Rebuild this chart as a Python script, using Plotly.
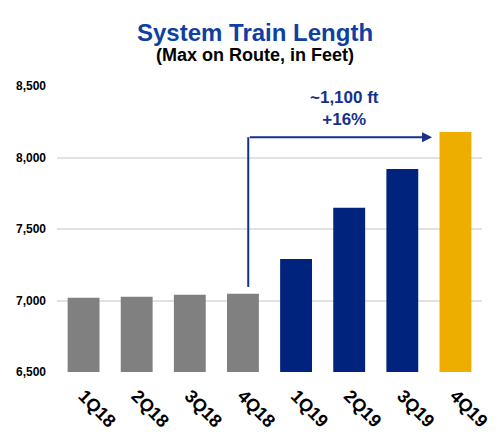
import plotly.graph_objects as go

quarters = ["1Q18", "2Q18", "3Q18", "4Q18", "1Q19", "2Q19", "3Q19", "4Q19"]
train_length = [7020, 7026, 7040, 7047, 7290, 7648, 7920, 8178]
bar_colors = ["#808080"] * 4 + ["#00237D"] * 3 + ["#EDAE00"]
y_ticks = [6500, 7000, 7500, 8000, 8500]
y_tick_labels = ["6,500", "7,000", "7,500", "8,000", "8,500"]

FONT = "Arial, Liberation Sans, sans-serif"
NAVY = "#15318A"

fig = go.Figure(go.Bar(x=quarters, y=train_length, marker_color=bar_colors,
                       marker_line_width=0, width=0.6))

# bracket arrow from 4Q18 to 4Q19
fig.add_shape(type="line", xref="x", yref="y", x0=3.1, x1=3.1, y0=7095, y1=8142,
              line=dict(color=NAVY, width=2))
fig.add_annotation(xref="x", yref="y", axref="x", ayref="y",
                   x=6.56, y=8142, ax=3.1, ay=8142, text="", showarrow=True,
                   arrowhead=2, arrowsize=1, arrowwidth=2, arrowcolor=NAVY)
fig.add_annotation(xref="x", yref="y", x=4.92, y=8341, text="<b>~1,100 ft<br>+16%</b>",
                   showarrow=False, font=dict(family=FONT, size=17, color=NAVY))

fig.add_annotation(xref="paper", yref="paper", x=0.467, y=1.241,
                   text="<b>System Train Length</b>", showarrow=False,
                   font=dict(family=FONT, size=24, color="#0E3FA3"))
fig.add_annotation(xref="paper", yref="paper", x=0.467, y=1.150,
                   text="<b>(Max on Route, in Feet)</b>", showarrow=False,
                   font=dict(family=FONT, size=18, color="#000000"))

fig.update_layout(
    width=502, height=438,
    margin=dict(l=57, r=20, t=86, b=66),
    plot_bgcolor="white", paper_bgcolor="white",
    showlegend=False,
    font=dict(family=FONT),
    xaxis=dict(tickangle=45, tickfont=dict(family=FONT, size=18, color="#000000"),
               showgrid=False, showline=False, zeroline=False, ticks="",
               ticklabelstandoff=9, automargin=False),
    yaxis=dict(range=[6500, 8500], tickvals=y_ticks,
               ticktext=["<b>" + t + "</b>" for t in y_tick_labels],
               tickfont=dict(family=FONT, size=12, color="#000000"),
               showgrid=True, gridcolor="#E2E2E2", gridwidth=1.5,
               zeroline=False, showline=False, ticks="", ticklabelstandoff=10,
               automargin=False),
)
fig.update_xaxes(tickprefix="<b>", ticksuffix="</b>")

fig.write_html("out.html")
